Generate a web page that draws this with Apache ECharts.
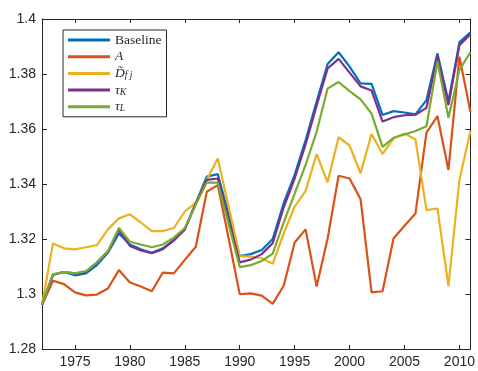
<!DOCTYPE html>
<html>
<head>
<meta charset="utf-8">
<style>
  html, body { margin: 0; padding: 0; background: #fff; }
  #chart { width: 478px; height: 371px; }
</style>
<script src="https://cdn.jsdelivr.net/npm/echarts@6/dist/echarts.min.js"></script>
</head>
<body>
<div id="chart"></div>
<script>
// Years on the horizontal axis
const years = [
  1972, 1973, 1974, 1975, 1976, 1977, 1978, 1979, 1980, 1981,
  1982, 1983, 1984, 1985, 1986, 1987, 1988, 1989, 1990, 1991,
  1992, 1993, 1994, 1995, 1996, 1997, 1998, 1999, 2000, 2001,
  2002, 2003, 2004, 2005, 2006, 2007, 2008, 2009, 2010, 2011
];

const baseline = [
  1.296, 1.307, 1.308, 1.3068, 1.3075, 1.3105, 1.315, 1.322, 1.318, 1.3163,
  1.315, 1.3166, 1.3196, 1.3235, 1.333, 1.3427, 1.3436, 1.3287, 1.3138, 1.3145,
  1.316, 1.320, 1.333, 1.3433, 1.356, 1.370, 1.3836, 1.3879, 1.3827, 1.3766,
  1.3764, 1.3651, 1.3665, 1.366, 1.3653, 1.3705, 1.3875, 1.370, 1.3915, 1.3952
];

const seriesA = [
  1.296, 1.3048, 1.3036, 1.3006, 1.2995, 1.2998, 1.302, 1.3087, 1.3042, 1.3027,
  1.301, 1.3078, 1.3075, 1.3124, 1.3172, 1.3372, 1.3396, 1.320, 1.2999, 1.3002,
  1.2994, 1.2964, 1.303, 1.3187, 1.3235, 1.3027, 1.3202, 1.343, 1.342, 1.3345,
  1.3006, 1.301, 1.3202, 1.3248, 1.3293, 1.3587, 1.3647, 1.3451, 1.3863, 1.3663
];

const seriesD = [
  1.296, 1.3184, 1.3166, 1.3162, 1.317, 1.3178, 1.3235, 1.3275, 1.329, 1.326,
  1.3229, 1.3229, 1.324, 1.330, 1.3332, 1.3415, 1.3493, 1.3316, 1.3138, 1.3136,
  1.313, 1.311, 1.322, 1.3318, 1.3375, 1.3509, 1.3406, 1.357, 1.354, 1.3439,
  1.3582, 1.3509, 1.3566, 1.3584, 1.3562, 1.3305, 1.3311, 1.3029, 1.3415, 1.3593
];

const seriesTauK = [
  1.296, 1.307, 1.308, 1.3075, 1.308, 1.3115, 1.3155, 1.3232, 1.3175, 1.3158,
  1.3148, 1.3163, 1.3195, 1.3235, 1.333, 1.3415, 1.342, 1.3268, 1.3115, 1.3125,
  1.3145, 1.3185, 1.3315, 1.342, 1.3545, 1.3685, 1.382, 1.3855, 1.3805, 1.3755,
  1.374, 1.3627, 1.3643, 1.365, 1.3652, 1.3677, 1.3865, 1.3687, 1.3905, 1.3945
];

const seriesTauL = [
  1.296, 1.3072, 1.308, 1.3075, 1.3083, 1.3115, 1.3155, 1.324, 1.319, 1.318,
  1.317, 1.318, 1.3205, 1.324, 1.3325, 1.3405, 1.3405, 1.3252, 1.3098, 1.3105,
  1.312, 1.3147, 1.326, 1.3365, 1.347, 1.359, 1.3747, 1.3771, 1.3738, 1.3708,
  1.3656, 1.3535, 1.3568, 1.358, 1.3593, 1.361, 1.3846, 1.3641, 1.3815, 1.3879
];

// Axis ticks
const xTicks = [1975, 1980, 1985, 1990, 1995, 2000, 2005, 2010];
const yMin = 1.28, yMax = 1.4, yStep = 0.02;

// Series names (rich-text keys used by the legend) and colours
const names = ['Baseline', 'A', 'Dfj', 'tauK', 'tauL'];
const colors = ['#0072BD', '#D95319', '#EDB120', '#7E2F8E', '#77AC30'];
const values = [baseline, seriesA, seriesD, seriesTauK, seriesTauL];

const legendText = {
  Baseline: '{rm|Baseline}',
  A: '{it|A}',
  Dfj: '{it|D\u0303}{sub|f j}',
  tauK: '{it|\u03C4}{sub|K}',
  tauL: '{it|\u03C4}{sub|L}'
};

const ink = '#262626';
const chart = echarts.init(document.getElementById('chart'), null, { renderer: 'canvas' });

const axisFont = { fontFamily: 'Liberation Sans, Arial, sans-serif', fontSize: 14, color: ink };

function xAxisDef(pos, withLabels) {
  return {
    type: 'value', position: pos, min: 1972, max: 2011,
    axisLine: { show: true, onZero: false, lineStyle: { color: ink, width: 1 } },
    axisTick: { show: true, inside: true, length: 4, customValues: xTicks, lineStyle: { color: ink } },
    axisLabel: withLabels
      ? Object.assign({ show: true, margin: 6, customValues: xTicks, formatter: v => String(v) }, axisFont)
      : { show: false },
    splitLine: { show: false }
  };
}

function yAxisDef(pos, withLabels) {
  return {
    type: 'value', position: pos, min: yMin, max: yMax, interval: yStep,
    axisLine: { show: true, onZero: false, lineStyle: { color: ink, width: 1 } },
    axisTick: { show: true, inside: true, length: 5, lineStyle: { color: ink } },
    axisLabel: withLabels
      ? Object.assign({ show: true, margin: 6, formatter: v => String(+v.toFixed(2)) }, axisFont)
      : { show: false },
    splitLine: { show: false }
  };
}

const series = names.map((n, i) => ({
  name: n,
  type: 'line',
  xAxisIndex: 0,
  yAxisIndex: 0,
  data: years.map((y, k) => [y, values[i][k]]),
  showSymbol: false,
  symbol: 'none',
  lineStyle: { color: colors[i], width: 2.2 },
  itemStyle: { color: colors[i] },
  z: 2 + i,
  animation: false
}));

chart.setOption({
  backgroundColor: '#ffffff',
  animation: false,
  grid: { left: 42, right: 5, top: 19, bottom: 22, containLabel: false },
  xAxis: [xAxisDef('bottom', true), xAxisDef('top', false)],
  yAxis: [yAxisDef('left', true), yAxisDef('right', false)],
  legend: {
    orient: 'vertical',
    left: 63, top: 30,
    data: names,
    icon: 'rect',
    itemWidth: 42, itemHeight: 3,
    itemGap: 2.7,
    padding: [3, 5, 3, 5],
    backgroundColor: '#ffffff',
    borderColor: ink, borderWidth: 1,
    selectedMode: false,
    formatter: n => legendText[n],
    textStyle: {
      color: ink, fontFamily: 'Liberation Serif, Times New Roman, serif', fontSize: 13.5, lineHeight: 14,
      rich: {
        rm: { fontFamily: 'Liberation Serif, serif', fontSize: 13.5, lineHeight: 14, color: ink },
        it: { fontFamily: 'Liberation Serif, serif', fontStyle: 'italic', fontSize: 13.5, lineHeight: 14, color: ink },
        sub: { fontFamily: 'Liberation Serif, serif', fontStyle: 'italic', fontSize: 9.5, lineHeight: 8, verticalAlign: 'bottom', color: ink }
      }
    }
  },
  series: series
});
</script>
</body>
</html>
